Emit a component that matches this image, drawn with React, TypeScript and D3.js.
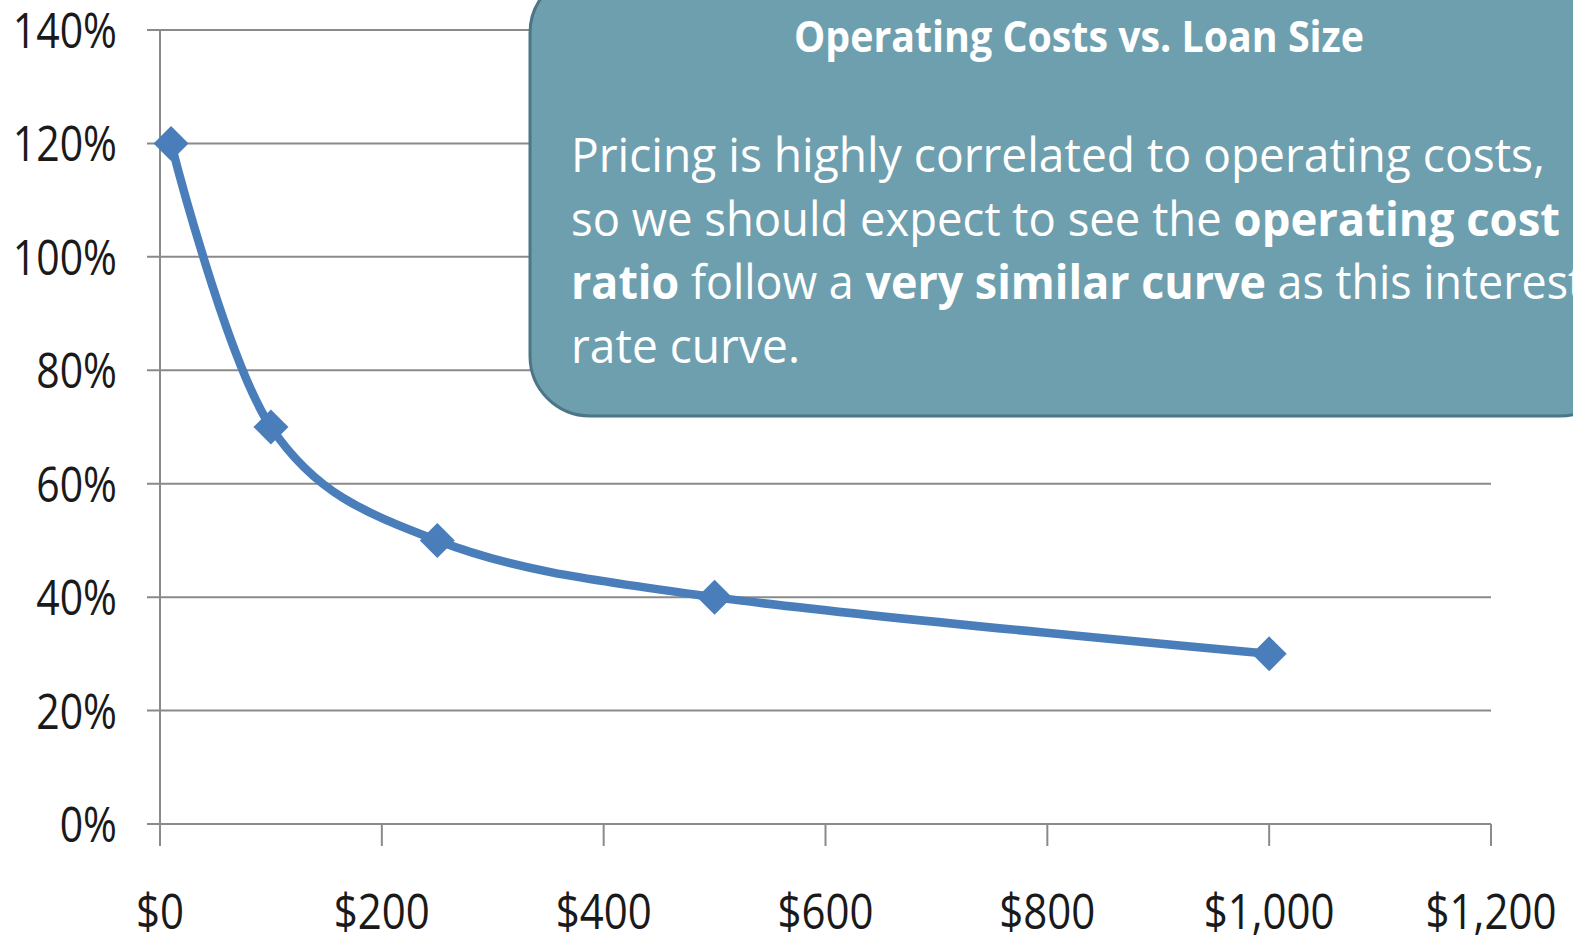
import React from "react";
import * as d3 from "d3";

const loanSizes = [10, 100, 250, 500, 1000];
const costRatios = [1.2, 0.7, 0.5, 0.4, 0.3];
const yTicks = [0, 0.2, 0.4, 0.6, 0.8, 1.0, 1.2, 1.4];
const xTicks = [0, 200, 400, 600, 800, 1000, 1200];
const titleText = "Operating Costs vs. Loan Size";
const bodyLines: { text: string; bold: boolean }[][] = [
  [{ text: "Pricing is highly correlated to operating costs,", bold: false }],
  [
    { text: "so we should expect to see the ", bold: false },
    { text: "operating cost", bold: true },
  ],
  [
    { text: "ratio", bold: true },
    { text: " follow a ", bold: false },
    { text: "very similar curve", bold: true },
    { text: " as this interest", bold: false },
  ],
  [{ text: "rate curve.", bold: false }],
];
const bodyLengths = [974, 989, 1013, 229];

const W = 1573;
const H = 939;
const FONT = "'Open Sans', 'Noto Sans', sans-serif";

export default function App() {
  const x = d3.scaleLinear().domain([0, 1200]).range([160, 1491]);
  const y = d3.scaleLinear().domain([0, 1.4]).range([824, 30]);
  const pts = loanSizes.map((v, i) => [x(v), y(costRatios[i])] as [number, number]);
  const line = d3.line().curve(d3.curveCardinal.tension(0))(pts) || "";
  const grid = "#8a8a8a";
  const blue = "#4a7ebb";
  const m = 17.5;

  return (
    <svg
      width={W}
      height={H}
      style={{ position: "absolute", left: 0, top: 0, display: "block", background: "#fff" }}
    >
      {/* gridlines */}
      {yTicks.map((t) => (
        <line key={"g" + t} x1={147} x2={1491} y1={y(t)} y2={y(t)} stroke={grid} strokeWidth={2} />
      ))}
      {/* y axis */}
      <line x1={160} x2={160} y1={y(1.4)} y2={846} stroke={grid} strokeWidth={2} />
      {xTicks.map((t) => (
        <line key={"xt" + t} x1={x(t)} x2={x(t)} y1={824} y2={846} stroke={grid} strokeWidth={2} />
      ))}
      {/* y labels */}
      {yTicks.map((t) => (
        <text
          key={"yl" + t}
          transform={`translate(117,${y(t) + 18}) scale(0.82,1)`}
          textAnchor="end"
          fontFamily={FONT}
          fontSize={50}
          fill="#1a1a1a"
        >
          {d3.format(".0%")(t)}
        </text>
      ))}
      {/* x labels */}
      {xTicks.map((t) => (
        <text
          key={"xl" + t}
          transform={`translate(${x(t)},929) scale(0.84,1)`}
          textAnchor="middle"
          fontFamily={FONT}
          fontSize={50}
          fill="#1a1a1a"
        >
          {"$" + d3.format(",")(t)}
        </text>
      ))}
      {/* series */}
      <path d={line} fill="none" stroke={blue} strokeWidth={8.5} strokeLinejoin="round" />
      {pts.map(([px, py], i) => (
        <path
          key={"m" + i}
          d={`M${px},${py - m}L${px + m},${py}L${px},${py + m}L${px - m},${py}Z`}
          fill={blue}
        />
      ))}
      {/* callout */}
      <rect x={530} y={-27} width={1090} height={443} rx={60} ry={60} fill="#6e9fae" stroke="#4c7686" strokeWidth={3} />
      <text
        x={794}
        y={52}
        textLength={570}
        lengthAdjust="spacingAndGlyphs"
        fontFamily={FONT}
        fontWeight="bold"
        fontSize={43}
        fill="#fff"
      >
        {titleText}
      </text>
      {bodyLines.map((ln, i) => (
        <text
          key={"b" + i}
          x={571}
          y={172 + i * 63.5}
          textLength={bodyLengths[i]}
          lengthAdjust="spacingAndGlyphs"
          fontFamily={FONT}
          fontSize={47}
          fill="#fff"
        >
          {ln.map((s, j) => (
            <tspan key={j} fontWeight={s.bold ? "bold" : "normal"}>
              {s.text}
            </tspan>
          ))}
        </text>
      ))}
    </svg>
  );
}
